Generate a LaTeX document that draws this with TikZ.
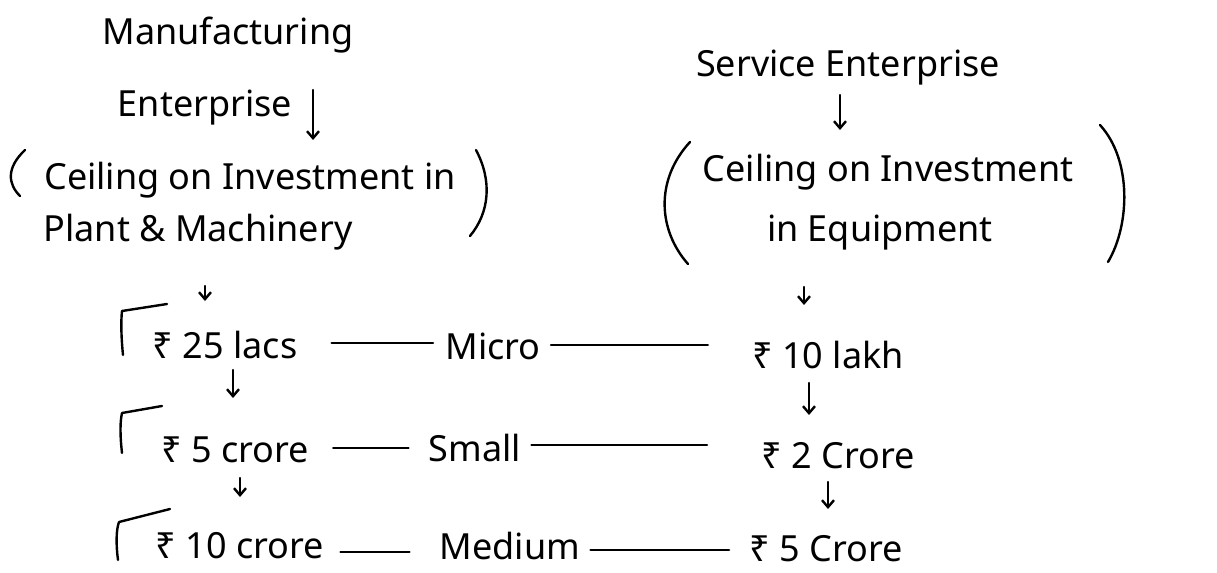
\documentclass[tikz,border=0pt]{standalone}
\usepackage{fontspec}
\setmainfont{Noto Sans}
\usetikzlibrary{arrows.meta,calc}
\begin{document}
\begin{tikzpicture}[x=0.5pt,y=-0.5pt,
  ink/.style={line width=1.2pt,line cap=round,line join=round},
  txt/.style={inner sep=0pt,font=\fontsize{18}{21}\selectfont},
  downarrow/.style={ink,-{Straight Barb[length=3.5pt,width=6pt]}},
  linkline/.style={ink},
]
\useasboundingbox (0,0) rectangle (1217,573);

% ---- left column: manufacturing enterprise ----
\node[txt] (mfg)   at (228,35)  {Manufacturing};
\node[txt] (ent)   at (205,108) {Enterprise};
\node[txt] (ceilm) at (250,180) {Ceiling on Investment in};
\node[txt] (plant) at (198,232) {Plant \& Machinery};
\coordinate (m0a) at (313,90);
\coordinate (m0b) at (313,140);
\draw[downarrow] (m0a) -- (m0b);
\draw[ink] (25,150) .. controls (6,168) and (8,184) .. (20,196);
\draw[ink] (476,150) .. controls (492,180) and (490,212) .. (470,236);

% ---- right column: service enterprise ----
\node[txt] (svc)   at (848,68)  {Service Enterprise};
\node[txt] (ceils) at (888,172) {Ceiling on Investment};
\node[txt] (equip) at (880,233) {in Equipment};
\coordinate (s0a) at (840,95);
\coordinate (s0b) at (840,130);
\draw[downarrow] (s0a) -- (s0b);
\draw[ink] (690,142) .. controls (655,180) and (658,230) .. (688,264);
\draw[ink] (1100,125) .. controls (1132,160) and (1130,225) .. (1108,262);

% ---- thresholds ----
\node[txt] (l1) at (225,345) {₹ 25 lacs};
\node[txt] (l2) at (235,450) {₹ 5 crore};
\node[txt] (l3) at (240,546) {₹ 10 crore};
\node[txt] (micro)  at (493,346) {Micro};
\node[txt] (small)  at (475,448) {Small};
\node[txt] (medium) at (510,546) {Medium};
\node[txt] (r1) at (828,355) {₹ 10 lakh};
\node[txt] (r2) at (838,456) {₹ 2 Crore};
\node[txt] (r3) at (826,549) {₹ 5 Crore};

% hooks before the left values
\draw[ink] (123,355) .. controls (121,335) and (121,320) .. (122,311) -- (167,304);
\draw[ink] (122,453) .. controls (120,435) and (120,422) .. (122,413) -- (162,406);
\draw[ink] (118,560) .. controls (116,545) and (116,530) .. (119,522) -- (170,509);

% dashes linking the size classes, level with the class name
\draw[linkline] ($(l1.east |- micro.west)+(17pt,1.5pt)$) -- ($(micro.west)+(-6pt,1.5pt)$);
\draw[linkline] ($(micro.east)+(5pt,0.5pt)$) -- ($(r1.west |- micro.east)+(-22pt,0.5pt)$);
\draw[linkline] ($(l2.east |- small.west)+(12pt,0pt)$) -- ($(small.west)+(-10pt,0pt)$);
\draw[linkline] ($(small.east)+(5pt,1.5pt)$) -- ($(r2.west |- small.east)+(-27pt,1.5pt)$);
\draw[linkline] ($(l3.east |- medium.west)+(8pt,-3pt)$) -- ($(medium.west)+(-15pt,-3pt)$);
\draw[linkline] ($(medium.east)+(5pt,-2pt)$) -- ($(r3.west |- medium.east)+(-10pt,-2pt)$);

% down arrows between levels
\coordinate (ma) at (205,286); \coordinate (mb) at (205,301);
\coordinate (mc) at (233,370); \coordinate (md) at (233,398);
\coordinate (me) at (240,478); \coordinate (mf) at (240,497);
\coordinate (sa) at (804,287); \coordinate (sb) at (804,305);
\coordinate (sc) at (809,383); \coordinate (sd) at (809,415);
\coordinate (se) at (828,482); \coordinate (sf) at (828,509);
\foreach \a/\b in {ma/mb,mc/md,me/mf,sa/sb,sc/sd,se/sf}
  \draw[downarrow] (\a) -- (\b);
\end{tikzpicture}
\end{document}
